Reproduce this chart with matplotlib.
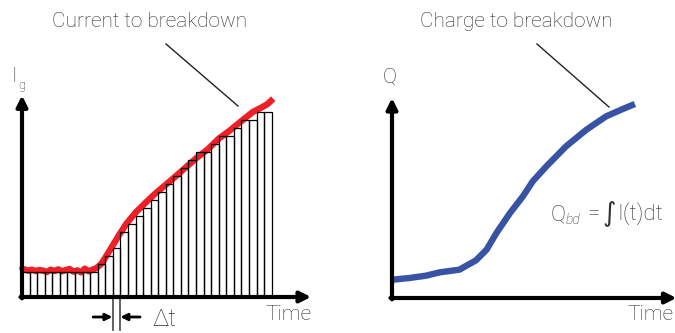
import matplotlib
matplotlib.use("Agg")
import matplotlib.pyplot as plt
from matplotlib.lines import Line2D

plt.rcParams['font.family'] = ['Roboto', 'DejaVu Sans']

# ---- data ----
bar_heights = [7.5] * 10 + [10.0, 12.3, 14.7, 19.5, 21.9, 24.3, 26.8, 29.1, 31.5, 33.9,
                            36.3, 38.7, 41.1, 43.5, 43.5, 45.9, 48.3, 48.3, 50.7, 53.1,
                            53.1, 55.5, 55.5]
bar_t = list(range(len(bar_heights)))

red_t = [-0.3, 0.3, 0.8, 1.3, 1.8, 2.3, 2.8, 3.3, 3.8, 4.3, 4.8, 5.3, 5.8, 6.3, 6.8, 7.3,
         7.8, 8.3, 8.8, 9.3, 9.8, 10.5, 11.2, 12.0, 12.8, 13.8, 15.0, 16.2, 17.5, 18.8,
         20.2, 21.6, 23.0, 24.5, 26.0, 27.5, 29.0, 30.5, 31.6, 32.4, 33.2]
red_i = [8.0, 8.3, 7.9, 8.2, 7.8, 8.1, 7.9, 7.5, 8.2, 7.8, 8.3, 7.7, 8.1, 8.4, 7.6, 8.0,
         7.4, 8.5, 7.7, 8.2, 8.6, 10.0, 12.5, 15.5, 18.5, 22.0, 25.3, 28.0, 30.8, 33.3,
         36.0, 38.8, 41.6, 44.2, 47.5, 50.0, 52.8, 55.5, 56.8, 57.8, 59.5]

blue_t = [0.13, 2.3, 4.5, 6.3, 8.9, 11.1, 12.5, 13.8, 15.6, 17.3, 18.6, 20.4, 23.0,
          25.7, 28.3, 30.5, 32.1]
blue_q = [5.5, 6.0, 6.7, 7.7, 8.5, 11.3, 14.5, 19.5, 25.5, 30.5, 35.0, 39.5, 45.5,
          50.5, 54.5, 56.7, 58.2]

W, H = 675, 333
fig = plt.figure(figsize=(6.75, 3.33), dpi=100)

UX = 22.7 / 3      # px per time unit
UY = 10 / 3        # px per value unit

def make_ax(ox, oy_top, xmin, xmax, ymin, ymax):
    left = ox + xmin * UX
    bottom = (H - oy_top) + ymin * UY
    w = (xmax - xmin) * UX
    h = (ymax - ymin) * UY
    ax = fig.add_axes([left / W, bottom / H, w / W, h / H])
    ax.set_xlim(xmin, xmax)
    ax.set_ylim(ymin, ymax)
    ax.axis('off')
    return ax

TXT = '#2e2e2e'
FS = 15

def ftext(px, py, s, **kw):
    kw.setdefault('fontweight', 'light')
    fig.text(px / W, 1 - py / H, s, color=TXT, **kw)

# ---- left panel ----
axl = make_ax(22, 297, -1, 40, -12, 66)
axl.plot(red_t, red_i, color='#ec2027', lw=4.6, solid_capstyle='butt', zorder=2, clip_on=False)
axl.bar(bar_t, bar_heights, width=1, align='edge', fill=False, edgecolor='black',
        lw=0.9, zorder=3)
arrow_kw = dict(arrowstyle='-|>', lw=3, color='black', mutation_scale=16,
                shrinkA=0, shrinkB=0)
axl.annotate('', xy=(38.2, 0), xytext=(-0.2, 0), arrowprops=arrow_kw, zorder=5)
axl.annotate('', xy=(0, 60.5), xytext=(0, -0.4), arrowprops=arrow_kw, zorder=5)
# delta t marker
axl.plot([12.05, 12.05], [-0.3, -9.9], color='#555555', lw=1.3, clip_on=False)
axl.plot([12.9, 12.9], [-0.3, -9.9], color='#555555', lw=1.3, clip_on=False)
small_kw = dict(arrowstyle='-|>', lw=2, color='black', mutation_scale=10,
                shrinkA=0, shrinkB=0)
axl.annotate('', xy=(11.95, -6), xytext=(9.4, -6), arrowprops=small_kw)
axl.annotate('', xy=(13.0, -6), xytext=(15.6, -6), arrowprops=small_kw)

# leader lines
fig.add_artist(Line2D([166 / W, 238 / W], [1 - 44 / H, 1 - 106 / H], color='#222222', lw=1))
fig.add_artist(Line2D([537 / W, 609 / W], [1 - 44 / H, 1 - 107 / H], color='#222222', lw=1))

# ---- right panel ----
axr = make_ax(392, 298, -1, 38, -12, 66)
axr.plot(blue_t, blue_q, color='#3953a4', lw=4.6, solid_capstyle='butt', zorder=2)
axr.annotate('', xy=(37.6, 0), xytext=(-0.2, 0), arrowprops=arrow_kw, zorder=5)
axr.annotate('', xy=(0, 60), xytext=(0, -0.4), arrowprops=arrow_kw, zorder=5)

# ---- texts ----
ftext(150, 27, 'Current to breakdown', fontsize=FS, ha='center', va='baseline')
ftext(516, 27, 'Charge to breakdown', fontsize=FS, ha='center', va='baseline')
ftext(12, 82, 'I', fontsize=FS, ha='left', va='baseline')
ftext(18, 89, 'g', fontsize=9, ha='left', va='baseline')
ftext(390, 83, 'Q', fontsize=FS, ha='center', va='baseline')
ftext(288, 320, 'Time', fontsize=FS, ha='center', va='baseline')
ftext(650, 320, 'Time', fontsize=FS, ha='center', va='baseline')
ftext(164, 326, 'Δt', fontsize=17, ha='center', va='baseline')
ftext(550, 220, 'Q', fontsize=16, ha='left', va='baseline')
ftext(566, 224, 'bd', fontsize=10, style='italic', ha='left', va='baseline')
ftext(587, 220, '=', fontsize=16, ha='left', va='baseline')
ftext(602.5, 221, '∫', fontsize=18.5, family='DejaVu Sans', fontweight='normal',
      ha='left', va='baseline')
ftext(617.5, 220, 'I(t)dt', fontsize=16, ha='left', va='baseline')

fig.savefig('out.png', dpi=100)
